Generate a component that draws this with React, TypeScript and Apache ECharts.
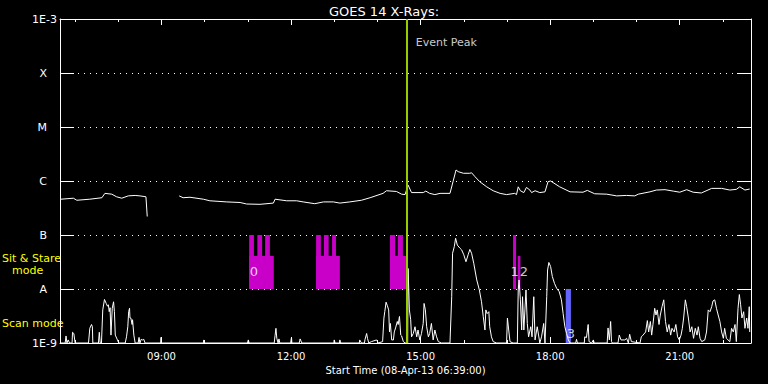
import React, { useEffect, useRef } from 'react';
import * as echarts from 'echarts';

const TITLE = 'GOES 14 X-Rays:';
const START_LABEL = 'Start Time (08-Apr-13 06:39:00)';
const TIME_MIN = 6.65;
const TIME_MAX = 22.65;
const HOUR_LABEL_TICKS = [9, 12, 15, 18, 21];
const HOUR_MINOR_TICKS = [7, 8, 9, 10, 11, 12, 13, 14, 15, 16, 17, 18, 19, 20, 21, 22];
const FLUX_MIN = 1e-9;
const FLUX_MAX = 1e-3;
const CLASS_LABELS = ['1E-9', 'A', 'B', 'C', 'M', 'X', '1E-3'];
const EVENT_PEAK_TIME = 14.68;
const EVENT_LABEL_FLUX = 3.6e-4;

// GOES long channel [hour, flux]
const GOES_LONG: (number | string)[][] = [
  [6.67, 4.6e-7], [6.96, 4.8e-7], [7.04, 4.4e-7], [7.34, 4.6e-7], [7.62, 4.9e-7], [7.69, 5.9e-7],
  [7.85, 5.7e-7], [7.96, 5.1e-7], [8.08, 4.8e-7], [8.23, 5.3e-7], [8.39, 5.4e-7], [8.5, 5.3e-7],
  [8.64, 5.1e-7], [8.67, 2.2e-7], [9.0, '-'],
  [9.41, 5.3e-7], [9.5, 4.9e-7], [9.66, 5.0e-7], [9.97, 4.6e-7], [10.12, 4.3e-7], [10.51, 4.1e-7],
  [10.82, 4.0e-7], [10.97, 3.75e-7], [11.28, 3.7e-7], [11.59, 3.9e-7], [11.63, 4.6e-7], [11.9, 4.3e-7],
  [12.13, 4.3e-7], [12.28, 4.1e-7], [12.55, 3.8e-7], [12.75, 4.1e-7], [12.98, 4.1e-7], [13.13, 3.9e-7],
  [13.36, 4.1e-7], [13.63, 4.4e-7], [13.83, 4.9e-7], [14.13, 5.9e-7], [14.21, 6.6e-7], [14.44, 6.4e-7],
  [14.56, 5.7e-7], [14.64, 5.6e-7], [14.71, 8.4e-7], [14.79, 6.1e-7], [15.06, 6.1e-7], [15.12, 6.5e-7],
  [15.21, 5.9e-7], [15.33, 5.6e-7], [15.45, 5.9e-7], [15.68, 5.9e-7], [15.75, 9.7e-7], [15.82, 1.6e-6],
  [15.87, 1.49e-6], [15.99, 1.39e-6], [16.14, 1.39e-6], [16.18, 1.42e-6], [16.26, 1.2e-6], [16.37, 9.7e-7],
  [16.53, 7.8e-7], [16.68, 6.6e-7], [16.84, 5.9e-7], [16.99, 5.6e-7], [17.18, 5.9e-7], [17.22, 5.6e-7],
  [17.26, 7.8e-7], [17.31, 6.6e-7], [17.39, 6.1e-7], [17.45, 7.6e-7], [17.53, 6.8e-7], [17.57, 6.1e-7],
  [17.65, 6.6e-7], [17.76, 6.1e-7], [17.88, 6.3e-7], [17.95, 9.7e-7], [18.01, 1.0e-6], [18.22, 7.8e-7],
  [18.46, 6.3e-7], [18.76, 6.2e-7], [18.86, 6.7e-7], [19.03, 5.8e-7], [19.31, 5.7e-7], [19.54, 5.3e-7],
  [19.77, 5.4e-7], [19.96, 5.3e-7], [20.04, 5.7e-7], [20.31, 6.3e-7], [20.46, 6.8e-7], [20.66, 6.9e-7],
  [20.85, 6.5e-7], [21.0, 6.2e-7], [21.16, 6.9e-7], [21.31, 6.2e-7], [21.5, 6.0e-7], [21.74, 7.3e-7],
  [21.97, 7.3e-7], [22.16, 6.8e-7], [22.31, 7.0e-7], [22.39, 7.8e-7], [22.51, 6.8e-7], [22.62, 7.1e-7],
];

// GOES short channel [hour, flux]
const GOES_SHORT: number[][] = [
  [6.65, 1e-9], [6.77, 1e-9], [6.79, 1.35e-9], [6.81, 1e-9], [6.84, 1.14e-9], [6.87, 1e-9], [6.93, 1e-9],
  [6.94, 1.58e-9], [6.97, 1.5e-9], [7.0, 1e-9], [7.31, 1e-9], [7.34, 1.87e-9], [7.38, 2.2e-9], [7.4, 2.0e-9],
  [7.41, 1e-9], [7.54, 1e-9], [7.56, 1.58e-9], [7.58, 1e-9], [7.61, 1e-9], [7.64, 4.1e-9], [7.68, 6.4e-9],
  [7.72, 5.4e-9], [7.75, 4.8e-9], [7.77, 5.1e-9], [7.79, 3.8e-9], [7.81, 4.5e-9], [7.83, 1.4e-9], [7.86, 4.4e-9],
  [7.89, 5.8e-9], [7.91, 3.8e-9], [7.93, 1.4e-9], [7.98, 1.14e-9], [8.01, 1e-9], [8.16, 1e-9], [8.19, 1.3e-9],
  [8.22, 2.0e-9], [8.24, 3.8e-9], [8.26, 4.4e-9], [8.27, 2.9e-9], [8.29, 2.9e-9], [8.32, 2.2e-9], [8.33, 2.7e-9],
  [8.36, 1.4e-9], [8.39, 1e-9], [8.46, 1e-9], [8.48, 1.27e-9], [8.5, 1e-9], [8.53, 1.17e-9], [8.56, 1.14e-9],
  [8.59, 1.17e-9], [8.62, 1e-9], [8.98, 1e-9], [8.99, 1.27e-9], [9.0, 1e-9], [9.97, 1e-9], [9.98, 1.14e-9],
  [10.0, 1e-9], [10.99, 1e-9], [11.01, 1.14e-9], [11.03, 1e-9], [11.61, 1e-9], [11.63, 1.37e-9], [11.65, 1.87e-9],
  [11.67, 1.22e-9], [11.7, 1e-9], [11.72, 1.19e-9], [11.74, 1e-9], [11.99, 1e-9], [12.01, 1.27e-9], [12.02, 1e-9],
  [12.19, 1e-9], [12.21, 1.19e-9], [12.23, 1.09e-9], [12.25, 1e-9], [12.99, 1e-9], [13.0, 1.14e-9], [13.02, 1e-9],
  [13.12, 1e-9], [13.13, 1.14e-9], [13.15, 1e-9], [13.58, 1e-9], [13.59, 1.14e-9], [13.63, 1e-9], [13.7, 1e-9],
  [13.71, 1.14e-9], [13.75, 1.5e-9], [13.77, 1.22e-9], [13.8, 1e-9], [13.86, 1.06e-9], [13.98, 1.14e-9],
  [14.02, 1e-9], [14.12, 1.06e-9], [14.15, 2.9e-9], [14.17, 3.8e-9], [14.2, 5.7e-9], [14.23, 4.9e-9],
  [14.26, 4.1e-9], [14.28, 1.6e-9], [14.3, 2.3e-9], [14.33, 1.14e-9], [14.37, 1.14e-9], [14.39, 1.6e-9],
  [14.42, 1.9e-9], [14.46, 2.5e-9], [14.48, 2.2e-9], [14.51, 3.1e-9], [14.54, 1.4e-9], [14.56, 1.35e-9],
  [14.6, 1.06e-9], [14.64, 1e-9], [14.7, 1e-9], [14.71, 2.4e-8], [14.74, 4.1e-9], [14.77, 2.7e-9],
  [14.79, 1.3e-9], [14.83, 1.5e-9], [14.87, 2.0e-9], [14.91, 1.3e-9], [14.94, 1.74e-9], [14.98, 1.14e-9],
  [15.02, 1.5e-9], [15.06, 2.3e-9], [15.08, 5.4e-9], [15.11, 4.1e-9], [15.14, 2.0e-9], [15.18, 1.3e-9],
  [15.21, 1.5e-9], [15.25, 2.3e-9], [15.29, 1.14e-9], [15.33, 1.74e-9], [15.37, 1.3e-9], [15.41, 1.06e-9],
  [15.48, 1e-9], [15.68, 1e-9], [15.72, 7.2e-9], [15.74, 4.6e-8], [15.78, 6.1e-8], [15.81, 8.7e-8],
  [15.85, 6.5e-8], [15.91, 5.7e-8], [15.95, 5.3e-8], [16.0, 4.3e-8], [16.05, 3.2e-8], [16.1, 4.3e-8],
  [16.14, 5.4e-8], [16.18, 4.6e-8], [16.23, 3.0e-8], [16.3, 1.47e-8], [16.36, 9.6e-9], [16.41, 5.8e-9],
  [16.45, 3.1e-9], [16.49, 1.74e-9], [16.51, 4.1e-9], [16.54, 3.5e-9], [16.58, 3.8e-9], [16.6, 2.0e-9],
  [16.64, 1.3e-9], [16.68, 1.06e-9], [16.76, 1e-9], [16.99, 1e-9], [17.01, 2.9e-9], [17.04, 1.74e-9],
  [17.07, 1.06e-9], [17.14, 1e-9], [17.24, 1e-9], [17.26, 9.6e-9], [17.28, 1.47e-8], [17.31, 6.3e-9],
  [17.34, 1.74e-9], [17.36, 7.2e-9], [17.39, 1.74e-9], [17.44, 9.6e-9], [17.47, 2.3e-9], [17.5, 1.3e-9],
  [17.55, 2.0e-9], [17.58, 1.3e-9], [17.62, 7.2e-9], [17.65, 1.14e-9], [17.7, 2.0e-9], [17.76, 1e-9],
  [17.8, 1.3e-9], [17.85, 2.3e-9], [17.88, 1e-9], [17.92, 7.2e-9], [17.94, 2.25e-8], [17.97, 3.1e-8],
  [18.01, 2.6e-8], [18.05, 1.7e-8], [18.1, 1.27e-8], [18.15, 1.03e-8], [18.21, 8.9e-9], [18.26, 6.3e-9],
  [18.3, 3.5e-9], [18.34, 2.0e-9], [18.38, 1.5e-9], [18.42, 1.14e-9], [18.46, 1e-9], [18.59, 1e-9],
  [18.61, 1.17e-9], [18.63, 1e-9], [18.79, 1e-9], [18.8, 1.3e-9], [18.84, 1.26e-9], [18.88, 2.2e-9],
  [18.9, 1.06e-9], [18.96, 1e-9], [19.0, 1.14e-9], [19.02, 1e-9], [19.32, 1e-9], [19.34, 1.9e-9],
  [19.37, 1.14e-9], [19.4, 2.5e-9], [19.42, 1.06e-9], [19.44, 1e-9], [19.57, 1e-9], [19.6, 1.4e-9],
  [19.64, 1.14e-9], [19.73, 1.14e-9], [19.77, 1.22e-9], [19.81, 1e-9], [19.84, 1.45e-9], [19.88, 1.06e-9],
  [20.08, 1e-9], [20.11, 1.3e-9], [20.15, 1.4e-9], [20.21, 1.6e-9], [20.25, 2.6e-9], [20.28, 1.6e-9],
  [20.32, 2.5e-9], [20.35, 1.4e-9], [20.38, 2.2e-9], [20.42, 4.4e-9], [20.45, 3.3e-9], [20.48, 4.1e-9],
  [20.52, 2.2e-9], [20.55, 3.3e-9], [20.59, 4.7e-9], [20.63, 6.3e-9], [20.67, 2.5e-9], [20.71, 1.6e-9],
  [20.75, 2.2e-9], [20.79, 1.4e-9], [20.82, 1.87e-9], [20.87, 1.6e-9], [20.91, 2.2e-9], [20.95, 1.3e-9],
  [20.99, 1.14e-9], [21.03, 1.4e-9], [21.06, 1.87e-9], [21.09, 2.9e-9], [21.13, 6.3e-9], [21.16, 4.7e-9],
  [21.2, 2.9e-9], [21.24, 1.6e-9], [21.28, 2.0e-9], [21.32, 1.22e-9], [21.36, 1.87e-9], [21.4, 1.4e-9],
  [21.43, 2.0e-9], [21.47, 1.22e-9], [21.51, 1.06e-9], [21.58, 1.14e-9], [21.62, 1.6e-9], [21.66, 4.1e-9],
  [21.7, 3.8e-9], [21.74, 4.7e-9], [21.77, 6.0e-9], [21.81, 6.3e-9], [21.85, 4.4e-9], [21.89, 3.3e-9],
  [21.93, 2.5e-9], [21.97, 1.6e-9], [22.01, 1.22e-9], [22.04, 1.87e-9], [22.08, 1.22e-9], [22.16, 1.06e-9],
  [22.2, 1.87e-9], [22.24, 1.6e-9], [22.28, 2.2e-9], [22.31, 1.06e-9], [22.35, 4.4e-9], [22.38, 7.9e-9],
  [22.41, 5.1e-9], [22.44, 2.9e-9], [22.48, 3.8e-9], [22.51, 1.87e-9], [22.55, 2.9e-9], [22.58, 1.87e-9],
  [22.61, 4.7e-9], [22.62, 1.6e-9],
];

// Sit & Stare observations [start hour, end hour, top flux, bottom flux]
const SIT_STARE_OBS: number[][] = [
  [11.03, 11.6, 4.1e-8, 1e-8], [11.03, 11.14, 1e-7, 1e-8], [11.22, 11.33, 1e-7, 1e-8], [11.4, 11.51, 1e-7, 1e-8],
  [12.58, 13.13, 4.1e-8, 1e-8], [12.58, 12.69, 1e-7, 1e-8], [12.76, 12.87, 1e-7, 1e-8], [12.95, 13.04, 1e-7, 1e-8],
  [14.29, 14.69, 4.1e-8, 1e-8], [14.29, 14.41, 1e-7, 1e-8], [14.47, 14.59, 1e-7, 1e-8],
  [17.14, 17.21, 1e-7, 1e-8], [17.25, 17.31, 4.1e-8, 1e-8],
];
// Scan observations
const SCAN_OBS: number[][] = [[18.36, 18.48, 1e-8, 1e-9]];
// Observation index labels [hour, flux, text]
const OBS_LABELS: (number | string)[][] = [
  [11.14, 2.07e-8, '0'], [17.18, 2.07e-8, '1'], [17.39, 2.07e-8, '2'], [18.48, 1.53e-9, '3'],
];

const FONT = 'DejaVu Sans';

function rectRenderer(color: string) {
  return (params: any, api: any) => {
    const p0 = api.coord([api.value(0), api.value(3)]);
    const p1 = api.coord([api.value(1), api.value(2)]);
    return {
      type: 'rect',
      shape: { x: p0[0], y: p1[1], width: p1[0] - p0[0], height: p0[1] - p1[1] },
      style: { fill: color },
    };
  };
}

export default function App() {
  const ref = useRef<HTMLDivElement>(null);
  useEffect(() => {
    if (!ref.current) return;
    const chart = echarts.init(ref.current, null, { renderer: 'svg' });
    const hourFmt = (v: number) => (v < 10 ? '0' : '') + v + ':00';
    const xBase = {
      type: 'value',
      min: TIME_MIN,
      max: TIME_MAX,
      splitLine: { show: false },
    };
    const yBase = {
      type: 'log',
      logBase: 10,
      min: FLUX_MIN,
      max: FLUX_MAX,
      interval: 1,
    };
    chart.setOption({
      animation: false,
      backgroundColor: '#000',
      title: {
        text: TITLE,
        left: 'center',
        top: 0,
        textStyle: { color: '#fff', fontSize: 13, fontWeight: 'normal', fontFamily: FONT },
      },
      grid: { left: 60, right: 17, top: 19, bottom: 41 },
      xAxis: [
        {
          ...xBase,
          position: 'bottom',
          axisLine: { show: true, lineStyle: { color: '#fff', width: 1 } },
          axisTick: { show: true, inside: true, length: 6, customValues: HOUR_LABEL_TICKS, lineStyle: { color: '#fff' } },
          axisLabel: { show: true, customValues: HOUR_LABEL_TICKS, formatter: hourFmt, color: '#fff', fontSize: 10, fontFamily: FONT, margin: 8 },
          name: START_LABEL,
          nameLocation: 'middle',
          nameGap: 19,
          nameTextStyle: { color: '#fff', fontSize: 10, fontFamily: FONT },
        },
        {
          ...xBase,
          position: 'bottom',
          axisLine: { show: false },
          axisTick: { show: true, inside: true, length: 3, customValues: HOUR_MINOR_TICKS, lineStyle: { color: '#fff' } },
          axisLabel: { show: false },
        },
        {
          ...xBase,
          position: 'top',
          axisLine: { show: true, lineStyle: { color: '#fff', width: 1 } },
          axisTick: { show: true, inside: true, length: 6, customValues: HOUR_LABEL_TICKS, lineStyle: { color: '#fff' } },
          axisLabel: { show: false },
        },
        {
          ...xBase,
          position: 'top',
          axisLine: { show: false },
          axisTick: { show: true, inside: true, length: 3, customValues: HOUR_MINOR_TICKS, lineStyle: { color: '#fff' } },
          axisLabel: { show: false },
        },
      ],
      yAxis: [
        {
          ...yBase,
          position: 'left',
          axisLine: { show: true, lineStyle: { color: '#fff', width: 1 } },
          axisTick: { show: true, inside: true, length: 14, lineStyle: { color: '#fff', width: 1 } },
          minorTick: { show: false },
          splitLine: { show: true, showMinLine: false, showMaxLine: false, lineStyle: { color: '#fff', width: 1, type: [1, 5] } },
          axisLabel: {
            show: true,
            margin: 3,
            formatter: (v: number) => {
              const t = CLASS_LABELS[Math.round(Math.log10(v)) + 9] ?? '';
              return t.length > 1 ? '{e|' + t + '}' : '{l|' + t + '}';
            },
            rich: {
              e: { color: '#fff', fontSize: 11, fontFamily: FONT },
              l: { color: '#fff', fontSize: 11, fontFamily: FONT, padding: [0, 10, 0, 0] },
            },
          },
        },
        {
          ...yBase,
          position: 'right',
          axisLine: { show: true, lineStyle: { color: '#fff', width: 1 } },
          axisTick: { show: true, inside: true, length: 14, lineStyle: { color: '#fff', width: 1 } },
          splitLine: { show: false },
          axisLabel: { show: false },
        },
      ],
      graphic: [
        { type: 'text', left: 2, top: 253, style: { text: 'Sit & Stare', fill: '#ffff00', font: `11px "${FONT}"` } },
        { type: 'text', left: 12, top: 265, style: { text: 'mode', fill: '#ffff00', font: `11px "${FONT}"` } },
        { type: 'text', left: 2, top: 318, style: { text: 'Scan mode', fill: '#ffff00', font: `11px "${FONT}"` } },
      ],
      series: [
        {
          type: 'custom',
          name: 'Sit & Stare',
          renderItem: rectRenderer('#c800c8'),
          encode: { x: [0, 1], y: [2, 3] },
          data: SIT_STARE_OBS,
          silent: true,
        },
        {
          type: 'custom',
          name: 'Scan',
          renderItem: rectRenderer('#6464ff'),
          encode: { x: [0, 1], y: [2, 3] },
          data: SCAN_OBS,
          silent: true,
        },
        {
          type: 'line',
          name: 'GOES long',
          data: GOES_LONG,
          showSymbol: false,
          connectNulls: false,
          lineStyle: { color: '#fff', width: 1 },
          silent: true,
        },
        {
          type: 'line',
          name: 'GOES short',
          data: GOES_SHORT,
          showSymbol: false,
          lineStyle: { color: '#fff', width: 1 },
          silent: true,
        },
        {
          type: 'scatter',
          name: 'Event',
          data: [[EVENT_PEAK_TIME, EVENT_LABEL_FLUX]],
          symbolSize: 0,
          silent: true,
          label: {
            show: true,
            position: 'right',
            distance: 9,
            formatter: 'Event Peak',
            color: '#fff',
            fontSize: 11,
            fontFamily: FONT,
          },
          markLine: {
            silent: true,
            symbol: 'none',
            label: { show: false },
            lineStyle: { color: '#99cc00', width: 2, type: 'solid' },
            data: [{ xAxis: EVENT_PEAK_TIME }],
          },
        },
        {
          type: 'scatter',
          name: 'Obs index',
          data: OBS_LABELS,
          symbolSize: 0,
          silent: true,
          label: {
            show: true,
            position: 'inside',
            formatter: (p: any) => p.data[2],
            color: '#fff',
            fontSize: 13,
            fontFamily: FONT,
          },
        },
      ],
    });
    return () => chart.dispose();
  }, []);
  return <div ref={ref} style={{ width: 768, height: 384, position: 'fixed', left: 0, top: 0 }} />;
}
